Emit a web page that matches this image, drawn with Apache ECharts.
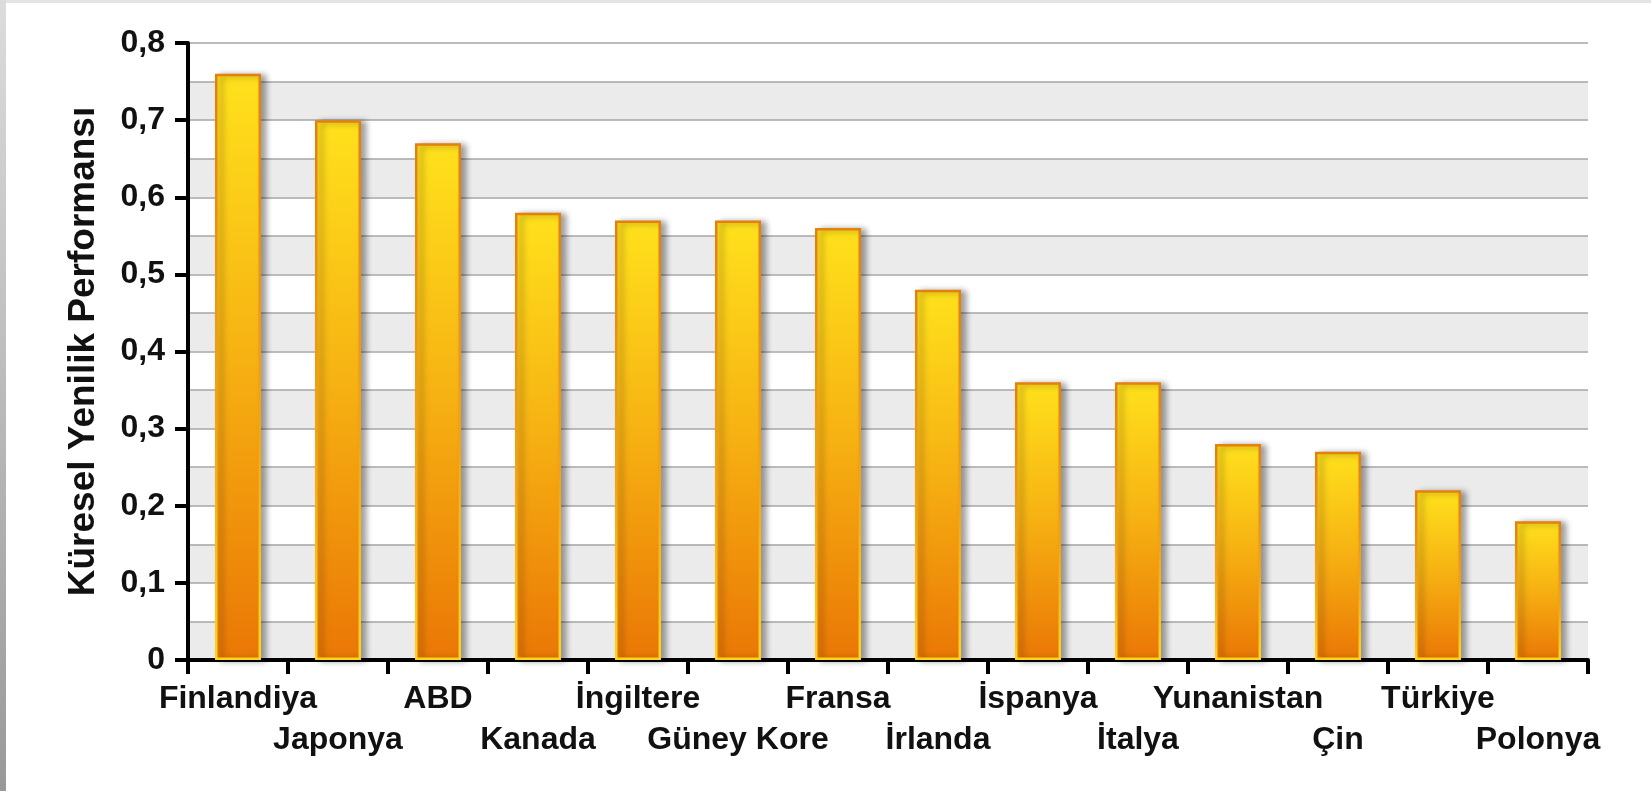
<!DOCTYPE html>
<html>
<head>
<meta charset="utf-8">
<script src="https://cdn.jsdelivr.net/npm/echarts@6/dist/echarts.min.js"></script>
<style>
  html, body { margin: 0; padding: 0; background: #ffffff; }
  #chart { width: 1651px; height: 791px; }
</style>
</head>
<body>
<div id="chart"></div>
<script>
// Ülkeler ve küresel yenilik performansı değerleri
const countries = ['Finlandiya', 'Japonya', 'ABD', 'Kanada', 'İngiltere', 'Güney Kore', 'Fransa',
  'İrlanda', 'İspanya', 'İtalya', 'Yunanistan', 'Çin', 'Türkiye', 'Polonya'];
const performance = [0.76, 0.70, 0.67, 0.58, 0.57, 0.57, 0.56, 0.48, 0.36, 0.36, 0.28, 0.27, 0.22, 0.18];
const yTicks = [0, 0.1, 0.2, 0.3, 0.4, 0.5, 0.6, 0.7, 0.8];
const yTitle = 'Küresel Yenilik Performansı';

const FONT = '"Liberation Sans", Arial, sans-serif';
const chart = echarts.init(document.getElementById('chart'));

const barFill = new echarts.graphic.LinearGradient(0, 0, 0, 1, [
  { offset: 0, color: '#ffe11c' },
  { offset: 0.5, color: '#f6b012' },
  { offset: 1, color: '#ea7705' }
]);
const barEdge = new echarts.graphic.LinearGradient(0, 0, 0, 1, [
  { offset: 0, color: '#e67f0c' },
  { offset: 0.6, color: '#f3a514' },
  { offset: 1, color: '#ffd21c' }
]);

chart.setOption({
  backgroundColor: '#ffffff',
  animation: false,
  graphic: [
    {
      type: 'rect', left: 0, top: 0, z: 100,
      shape: { width: 6, height: 791 },
      style: { fill: new echarts.graphic.LinearGradient(0, 0, 0, 1, [
        { offset: 0, color: '#dcdcdc' }, { offset: 1, color: '#999999' }
      ]) }
    },
    {
      type: 'rect', left: 0, top: 0, z: 99,
      shape: { width: 1651, height: 3 },
      style: { fill: '#e4e4e4' }
    }
  ],
  grid: { left: 188, right: 63, top: 43, bottom: 131, containLabel: false },
  xAxis: {
    type: 'category',
    data: countries,
    boundaryGap: true,
    axisLine: { show: true, lineStyle: { color: '#000000', width: 4 } },
    axisTick: { show: true, alignWithLabel: false, length: 14, lineStyle: { color: '#000000', width: 4 } },
    axisLabel: {
      interval: 0,
      margin: 19,
      color: '#111111',
      fontFamily: FONT,
      fontWeight: 'bold',
      fontSize: 32,
      lineHeight: 41,
      formatter: (v, i) => (i % 2 === 1 ? '\n' + v : v)
    },
    splitLine: { show: false }
  },
  yAxis: [
    {
      type: 'value',
      min: yTicks[0],
      max: yTicks[yTicks.length - 1],
      interval: 0.1,
      name: yTitle,
      nameLocation: 'middle',
      nameGap: 86,
      nameRotate: 90,
      nameTextStyle: { color: '#111111', fontFamily: FONT, fontWeight: 'bold', fontSize: 37 },
      axisLine: { show: true, lineStyle: { color: '#000000', width: 4 } },
      axisTick: { show: true, length: 13, lineStyle: { color: '#000000', width: 4 } },
      axisLabel: {
        margin: 23,
        color: '#111111',
        fontFamily: FONT,
        fontWeight: 'bold',
        fontSize: 32,
        formatter: v => (v === 0 ? '0' : v.toFixed(1).replace('.', ','))
      },
      splitLine: { show: false }
    },
    {
      // ara çizgiler ve dönüşümlü bantlar (0,05 aralıklı)
      type: 'value',
      min: 0,
      max: 0.8,
      interval: 0.05,
      position: 'left',
      axisLine: { show: false },
      axisTick: { show: false },
      axisLabel: { show: false },
      splitLine: { show: true, lineStyle: { color: '#a6a6a6', width: 1.5 } },
      splitArea: { show: true, areaStyle: { color: ['#ebebeb', '#ffffff'] } }
    }
  ],
  series: [
    {
      type: 'bar',
      data: performance,
      yAxisIndex: 0,
      barWidth: 46,
      itemStyle: {
        color: barFill,
        borderColor: barEdge,
        borderWidth: 2.5,
        shadowColor: 'rgba(0,0,0,0.35)',
        shadowBlur: 6,
        shadowOffsetX: 5,
        shadowOffsetY: 1
      }
    }
  ]
});
</script>
</body>
</html>
